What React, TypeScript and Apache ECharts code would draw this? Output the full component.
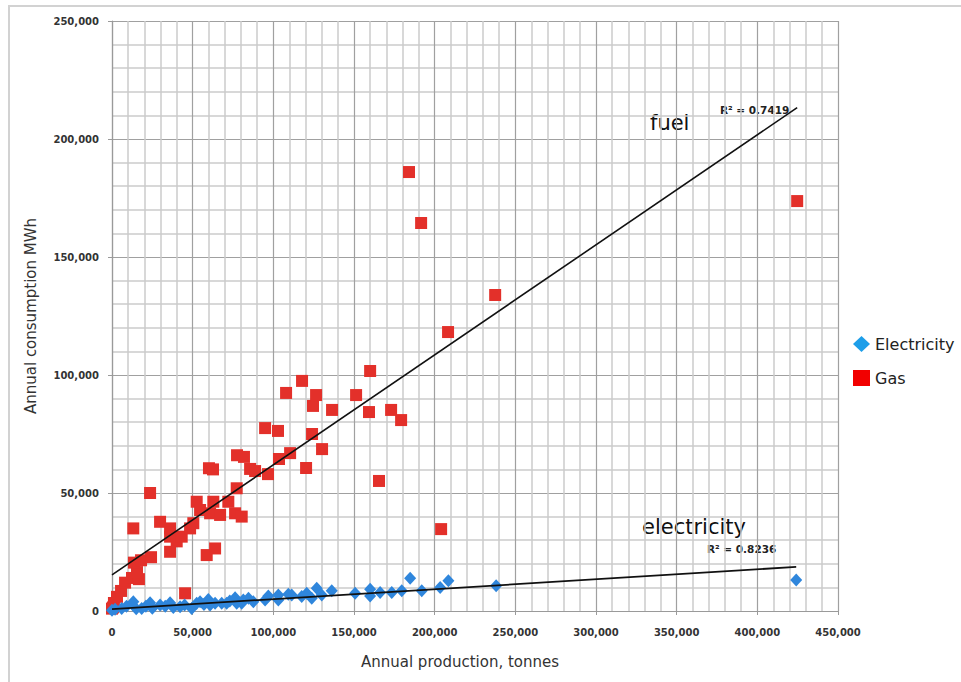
import React, { useEffect, useRef } from "react";
import * as echarts from "echarts";

// Annual production (tonnes) vs annual consumption (MWh)
const electricityData: [number, number][] = [
  [0, 300], [1900, 700], [6000, 1100], [9000, 2000], [13200, 3900], [15000, 1000],
  [18400, 1100], [21000, 2000], [23600, 3500], [25000, 1200], [29800, 2500],
  [33000, 2000], [36000, 3500], [38000, 1500], [42200, 1800], [45000, 2500],
  [49400, 1100], [52500, 3300], [54600, 3900], [57000, 2800], [59700, 4900],
  [60800, 2500], [63900, 3300], [68000, 3300], [71100, 3300], [73000, 4200],
  [76300, 5600], [77300, 3300], [80400, 3300], [81400, 4700], [84600, 5400],
  [87600, 3900], [94900, 4700], [96900, 6400], [103100, 6800], [103100, 4700],
  [109300, 7100], [111400, 6800], [117600, 6100], [120700, 7500], [123800, 5400],
  [126900, 9600], [130000, 6800], [136200, 8600], [150700, 7500], [160000, 9200],
  [160000, 6400], [166200, 7800], [173400, 7800], [179600, 8600], [184800, 13900],
  [192000, 8600], [203400, 10000], [208500, 12800], [238100, 10700], [424100, 13100],
];

const gasData: [number, number][] = [
  [0, 1000], [600, 1500], [1200, 3400], [3100, 6000], [5600, 8500], [8100, 12000],
  [12400, 14000], [16700, 13500], [15500, 16500], [13600, 20500], [18000, 21500],
  [24200, 22800], [13200, 35000], [23600, 50000], [29800, 37800], [36000, 35000],
  [36000, 31500], [40100, 29500], [43200, 31500], [36000, 25100], [45300, 7500],
  [48400, 35000], [50400, 37200], [52500, 46300], [54600, 42800], [58700, 23700],
  [60800, 41400], [62800, 46300], [63900, 26500], [67000, 40700], [72100, 46300],
  [76300, 41400], [77300, 52000], [80400, 40000], [60100, 60500], [62600, 60000],
  [77500, 66000], [81800, 65300], [85600, 60200], [88700, 59300], [94900, 77500],
  [96700, 58000], [102900, 76300], [103500, 64400], [107900, 92400], [110400, 66900],
  [117800, 97500], [120300, 60600], [124000, 75000], [124600, 86900], [126500, 91500],
  [130200, 68600], [136400, 85200], [151300, 91500], [159300, 84300], [160000, 101700],
  [165500, 55100], [173000, 85200], [179200, 80900], [184100, 186000], [191600, 164400],
  [204000, 34700], [208300, 118200], [237500, 133900], [424700, 173700],
];

// Linear trend lines (end points)
const fuelTrend: [number, number][] = [[0, 15300], [424700, 213300]];
const electricityTrend: [number, number][] = [[0, 800], [424100, 18700]];

const fuelR2 = "R² = 0.7419";
const electricityR2 = "R² = 0.8236";

const FONT = '"DejaVu Sans", "Liberation Sans", sans-serif';

export default function App() {
  const ref = useRef<HTMLDivElement>(null);

  useEffect(() => {
    if (!ref.current) return;
    const chart = echarts.init(ref.current, undefined, { renderer: "svg" });

    const fmt = (v: number) => v.toLocaleString("en-US");

    const axisCommon = {
      type: "value" as const,
      interval: 50000,
      axisLine: { show: true, lineStyle: { color: "#9a9a9a", width: 1.2 } },
      axisTick: { show: true, length: 4, lineStyle: { color: "#9a9a9a" } },
      splitLine: { show: true, lineStyle: { color: "#a0a0a0", width: 1.2 } },
      minorTick: { show: false, splitNumber: 5 },
      minorSplitLine: { show: true, lineStyle: { color: "#cbcbcb", width: 1.5 } },
      axisLabel: {
        formatter: fmt,
        fontFamily: FONT,
        fontSize: 10,
        fontWeight: "bold" as const,
        color: "#333",
      },
      nameLocation: "middle" as const,
      nameTextStyle: { fontFamily: FONT, fontSize: 15, color: "#333" },
    };

    chart.setOption({
      animation: false,
      backgroundColor: "#ffffff",
      grid: { left: 112, right: 123, top: 21, bottom: 71 },
      xAxis: {
        ...axisCommon,
        min: 0,
        max: 450000,
        name: "Annual production, tonnes",
        nameGap: 43,
        nameTextStyle: { ...axisCommon.nameTextStyle, padding: [0, 30, 0, 0] },
        axisLabel: { ...axisCommon.axisLabel, margin: 16 },
      },
      yAxis: {
        ...axisCommon,
        min: 0,
        max: 250000,
        name: "Annual consumption MWh",
        nameGap: 74,
        axisLabel: { ...axisCommon.axisLabel, margin: 13 },
      },
      legend: {
        orient: "vertical",
        left: 848,
        top: 331,
        itemWidth: 17,
        itemHeight: 16,
        itemGap: 18,
        textStyle: { fontFamily: FONT, fontSize: 16, color: "#222" },
        data: [
          { name: "Electricity", icon: "diamond", itemStyle: { color: "#1d9ee9", opacity: 1 } },
          { name: "Gas", icon: "rect", itemStyle: { color: "#f20000", opacity: 1 } },
        ],
      },
      graphic: [
        {
          type: "rect",
          silent: true,
          shape: { x: 9, y: 6, width: 1000, height: 700 },
          style: { fill: "none", stroke: "#d2d2d2", lineWidth: 2 },
        },
        {
          type: "text",
          x: 650,
          y: 123,
          style: { text: "fuel", fontFamily: FONT, fontSize: 21, fill: "#111", verticalAlign: "middle" },
        },
        {
          type: "text",
          x: 720,
          y: 110,
          style: { text: fuelR2, fontFamily: FONT, fontSize: 10.5, fontWeight: "bold", fill: "#222", verticalAlign: "middle" },
        },
        {
          type: "text",
          x: 642,
          y: 527,
          style: { text: "electricity", fontFamily: FONT, fontSize: 21, fill: "#111", verticalAlign: "middle" },
        },
        {
          type: "text",
          x: 707,
          y: 549,
          style: { text: electricityR2, fontFamily: FONT, fontSize: 10.5, fontWeight: "bold", fill: "#222", verticalAlign: "middle" },
        },
      ],
      series: [
        {
          name: "Gas",
          type: "scatter",
          symbol: "rect",
          symbolSize: 12,
          itemStyle: { color: "#e3302a", opacity: 1 },
          data: gasData,
          z: 2,
        },
        {
          name: "Electricity",
          type: "scatter",
          symbol: "diamond",
          symbolSize: [12, 13],
          itemStyle: { color: "#2f86dc", opacity: 1 },
          data: electricityData,
          z: 3,
        },
        {
          name: "fuel trend",
          type: "line",
          data: fuelTrend,
          symbol: "none",
          silent: true,
          lineStyle: { color: "#111", width: 1.6 },
          z: 5,
        },
        {
          name: "electricity trend",
          type: "line",
          data: electricityTrend,
          symbol: "none",
          silent: true,
          lineStyle: { color: "#111", width: 1.8 },
          z: 5,
        },
      ],
    });

    return () => chart.dispose();
  }, []);

  return (
    <div
      ref={ref}
      style={{ position: "fixed", left: 0, top: 0, width: 961, height: 682 }}
    />
  );
}
